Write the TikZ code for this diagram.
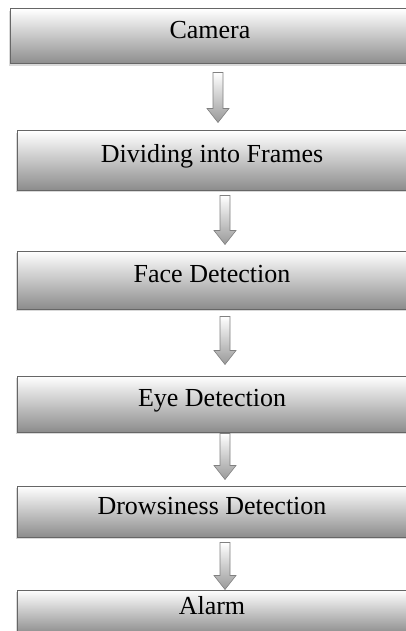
\documentclass[tikz,border=0pt]{standalone}
\usepackage{fontspec}
\setmainfont{Liberation Serif}
\usetikzlibrary{calc,shadows}

\begin{document}
\begin{tikzpicture}[x=1pt,y=-1pt,
    stage/.style={rectangle, draw=black!60, line width=1pt,
      top color=white, bottom color=black!45,
      font=\fontsize{26}{30}\selectfont, inner sep=0pt,
      text height=18pt, text depth=13pt,
      drop shadow={shadow xshift=-1pt, shadow yshift=-2pt, opacity=.3}},
    blockarrow/.style={draw=black!50, line width=.6pt,
      top color=white, bottom color=black!40}]
    \useasboundingbox (0,0) rectangle (406,631);
    \clip (0,0) rectangle (406,631);

    \node[stage, minimum width=400pt, minimum height=55pt] (cam)   at (210,36.5)  {Camera};
    \node[stage, minimum width=390pt, minimum height=59pt] (div)   at (212,160.5) {Dividing into Frames};
    \node[stage, minimum width=390pt, minimum height=58pt] (face)  at (212,280)   {Face Detection};
    \node[stage, minimum width=390pt, minimum height=56pt] (eye)   at (212,404)   {Eye Detection};
    \node[stage, minimum width=390pt, minimum height=51pt] (drow)  at (212,511.5) {Drowsiness Detection};
    \node[stage, minimum width=390pt, minimum height=44pt] (alarm) at (212,612)   {Alarm};

    % hollow block arrows between the stages
    \foreach \from/\to/\dx/\ga/\gb in
    {cam/div/8/8/8, div/face/13/5/6, face/eye/13/7/11, eye/drow/13/1/6, drow/alarm/13/5/0}
    \path[blockarrow] let \p1=($(\from.south)+(\dx,\ga)$), \p2=($(\to.north)+(\dx,-\gb)$) in
      (\x1-5pt,\y1) -- (\x1+5pt,\y1) -- (\x1+5pt,\y2+14pt) -- (\x1+11pt,\y2+14pt)
      -- (\x1,\y2) -- (\x1-11pt,\y2+14pt) -- (\x1-5pt,\y2+14pt) -- cycle;
\end{tikzpicture}
\end{document}
